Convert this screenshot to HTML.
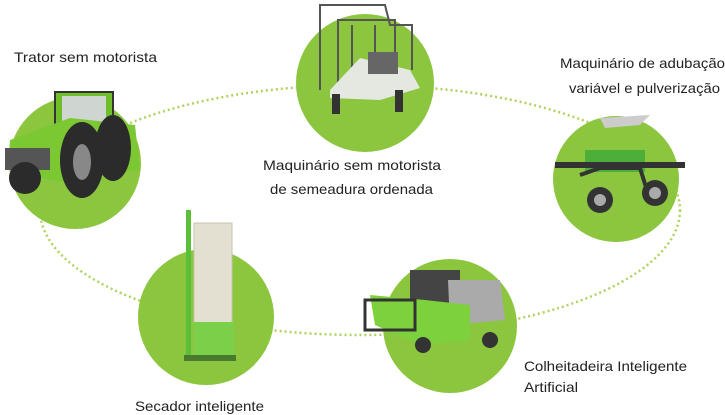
<!DOCTYPE html>
<html><head><meta charset="utf-8"><style>
html,body{margin:0;padding:0;background:#fff;}
svg{display:block;}
text{font-family:"Liberation Sans Narrow","Liberation Sans",sans-serif;font-size:14px;fill:#222;}
</style></head><body>
<svg width="725" height="415" viewBox="0 0 725 415" xmlns="http://www.w3.org/2000/svg">
<ellipse cx="360" cy="210" rx="320" ry="125" fill="none" stroke="#aed35c" stroke-width="2.5" stroke-dasharray="2 3"/>
<g fill="#8cc63f">
<circle cx="75" cy="163" r="66"/>
<circle cx="365" cy="83" r="69"/>
<circle cx="616" cy="179" r="63"/>
<circle cx="206" cy="317" r="68"/>
<circle cx="450" cy="326" r="67"/>
</g>
<!-- tractor -->
<g>
<rect x="55" y="92" width="58" height="40" fill="#6fbf2a" stroke="#333" stroke-width="2"/>
<rect x="62" y="96" width="44" height="28" fill="#cfd6d2"/>
<path d="M10 140 L70 118 L135 125 L140 170 L60 182 L8 170Z" fill="#7cc832"/>
<rect x="5" y="148" width="45" height="22" fill="#555"/>
<ellipse cx="113" cy="148" rx="18" ry="33" fill="#2b2b2b"/>
<ellipse cx="82" cy="160" rx="22" ry="38" fill="#2b2b2b"/>
<ellipse cx="82" cy="162" rx="9" ry="18" fill="#888"/>
<ellipse cx="25" cy="178" rx="16" ry="16" fill="#2b2b2b"/>
</g>
<!-- seeder -->
<g fill="none" stroke="#555" stroke-width="2">
<path d="M320 90 L320 5 L385 5 L390 25 L412 25 L412 70"/>
<path d="M338 95 L338 20 L395 20 L395 70"/>
<path d="M352 80 L352 25 M375 78 L375 25"/>
</g>
<path d="M330 90 L360 58 L410 70 L420 88 L380 100 L330 98Z" fill="#e4e8e0"/>
<rect x="368" y="52" width="30" height="22" fill="#666"/>
<rect x="332" y="94" width="8" height="20" fill="#333"/>
<rect x="395" y="90" width="8" height="22" fill="#333"/>
<!-- sprayer -->
<path d="M600 118 L650 115 L640 125 L605 128Z" fill="#ccc"/>
<rect x="585" y="150" width="60" height="22" fill="#4caf3a"/>
<rect x="555" y="162" width="130" height="6" fill="#333"/>
<path d="M580 175 L600 168 L640 168 L650 200" stroke="#333" stroke-width="4" fill="none"/>
<circle cx="600" cy="200" r="13" fill="#333"/><circle cx="600" cy="200" r="6" fill="#aaa"/>
<circle cx="655" cy="193" r="13" fill="#333"/><circle cx="655" cy="193" r="6" fill="#aaa"/>
<!-- dryer -->
<rect x="194" y="223" width="38" height="100" fill="#e3e0d2" stroke="#c8c4b0"/>
<rect x="186" y="210" width="5" height="150" fill="#5cbf3a"/>
<rect x="194" y="322" width="40" height="35" fill="#7bd04a"/>
<rect x="184" y="355" width="52" height="6" fill="#4a7a30"/>
<!-- harvester -->
<rect x="410" y="270" width="50" height="40" fill="#444"/>
<path d="M448 280 L500 280 L505 320 L450 325Z" fill="#aaa"/>
<path d="M370 295 L425 300 L470 305 L470 340 L420 345 L375 325Z" fill="#7dd13c"/>
<rect x="365" y="300" width="50" height="30" fill="none" stroke="#333" stroke-width="3"/>
<circle cx="423" cy="345" r="8" fill="#333"/><circle cx="490" cy="340" r="8" fill="#333"/>
<!-- labels -->
<text x="14" y="62" textLength="143" lengthAdjust="spacingAndGlyphs">Trator sem motorista</text>
<text x="263" y="170" textLength="178" lengthAdjust="spacingAndGlyphs">Maquinário sem motorista</text>
<text x="270" y="194" textLength="163" lengthAdjust="spacingAndGlyphs">de semeadura ordenada</text>
<text x="560" y="68" textLength="165" lengthAdjust="spacingAndGlyphs">Maquinário de adubação</text>
<text x="569" y="93" textLength="151" lengthAdjust="spacingAndGlyphs">variável e pulverização</text>
<text x="524" y="371" textLength="163" lengthAdjust="spacingAndGlyphs">Colheitadeira Inteligente</text>
<text x="524" y="392" textLength="54" lengthAdjust="spacingAndGlyphs">Artificial</text>
<text x="135" y="411" textLength="129" lengthAdjust="spacingAndGlyphs">Secador inteligente</text>
</svg>
</body></html>
